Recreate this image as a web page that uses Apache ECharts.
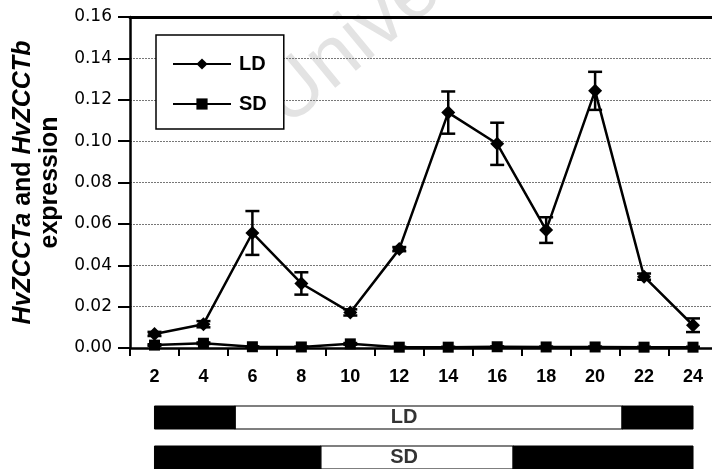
<!DOCTYPE html>
<html>
<head>
<meta charset="utf-8">
<script src="https://cdn.jsdelivr.net/npm/echarts@6/dist/echarts.min.js"></script>
<style>
  html, body { margin: 0; padding: 0; background: #fff; }
  #chart { width: 712px; height: 469px; }
</style>
</head>
<body>
<div id="chart"></div>
<script>
// Sampling times (h)
const hours = ['2', '4', '6', '8', '10', '12', '14', '16', '18', '20', '22', '24'];
// Long-day expression, mean and standard error
const ldMean = [0.0068, 0.0115, 0.0556, 0.0312, 0.0172, 0.0478, 0.1138, 0.0987, 0.0570, 0.1243, 0.0345, 0.0110];
const ldSE   = [0.0010, 0.0015, 0.0106, 0.0054, 0.0015, 0.0010, 0.0102, 0.0102, 0.0062, 0.0092, 0.0015, 0.0033];
// Short-day expression, mean and standard error
const sdMean = [0.0014, 0.0023, 0.0006, 0.0005, 0.0020, 0.0004, 0.0004, 0.0006, 0.0005, 0.0005, 0.0004, 0.0004];
const sdSE   = [0.0004, 0.0004, 0.0002, 0.0002, 0.0004, 0.0002, 0.0002, 0.0002, 0.0002, 0.0002, 0.0002, 0.0002];
// Light / dark phases (start h, end h, phase)
const ldPhases = [[2, 5.3, 'dark'], [5.3, 21.1, 'light'], [21.1, 24, 'dark']];
const sdPhases = [[2, 8.8, 'dark'], [8.8, 16.65, 'light'], [16.65, 24, 'dark']];
const phaseRows = ['LD', 'SD'];
const phaseLabelHour = 12.2;

const FONT = 'Liberation Sans, Arial, sans-serif';

function errorData(mean, se) {
  return mean.map((m, i) => [i, m - se[i], m + se[i]]);
}

function renderError(params, api) {
  const x = api.value(0);
  const lo = api.coord([x, api.value(1)]);
  const hi = api.coord([x, api.value(2)]);
  const half = 7;
  const st = { stroke: '#000', lineWidth: 2.5 };
  return {
    type: 'group',
    children: [
      { type: 'line', shape: { x1: hi[0], y1: hi[1], x2: lo[0], y2: lo[1] }, style: st },
      { type: 'line', shape: { x1: hi[0] - half, y1: hi[1], x2: hi[0] + half, y2: hi[1] }, style: st },
      { type: 'line', shape: { x1: lo[0] - half, y1: lo[1], x2: lo[0] + half, y2: lo[1] }, style: st }
    ]
  };
}

const phaseData = [];
ldPhases.forEach(p => phaseData.push([p[0], p[1], 0, p[2]]));
sdPhases.forEach(p => phaseData.push([p[0], p[1], 1, p[2]]));

function renderPhase(params, api) {
  const row = api.value(2);
  const a = api.coord([api.value(0), row]);
  const b = api.coord([api.value(1), row]);
  const h = 23;
  const dark = api.value(3) === 'dark';
  return {
    type: 'rect',
    shape: { x: a[0], y: a[1] - h / 2, width: b[0] - a[0], height: h },
    style: dark ? { fill: '#000', stroke: '#000', lineWidth: 1 } : { fill: '#fff', stroke: '#000', lineWidth: 1.2 }
  };
}

const chart = echarts.init(document.getElementById('chart'), null, { renderer: 'canvas' });

chart.setOption({
  animation: false,
  backgroundColor: '#fff',
  graphic: [{
    type: 'text',
    x: 298, y: 142,
    rotation: Math.PI * 0.22,
    z: -10,
    silent: true,
    style: {
      text: 'Unive',
      font: '80px Liberation Sans',
      fill: '#e3e3e3',
      textAlign: 'left',
      textVerticalAlign: 'bottom'
    }
  }],
  legend: {
    orient: 'vertical',
    left: 156,
    top: 35,
    padding: [19, 17, 15, 16],
    itemWidth: 58,
    itemHeight: 14,
    itemGap: 20,
    borderColor: '#000',
    borderWidth: 1.5,
    backgroundColor: '#fff',
    textStyle: { fontFamily: FONT, fontWeight: 'bold', fontSize: 20, lineHeight: 16, color: '#000', padding: [0, 0, 0, 3] },
    data: ['LD', 'SD']
  },
  grid: [
    { left: 130, width: 587.5, top: 17, height: 331, outerBoundsMode: 'none', containLabel: false },
    { left: 130, width: 587.5, top: 397.5, height: 80, outerBoundsMode: 'none', containLabel: false }
  ],
  xAxis: [
    {
      type: 'category', gridIndex: 0, data: hours, boundaryGap: true,
      axisLine: { lineStyle: { color: '#000', width: 2.5 } },
      axisTick: { show: true, length: 8, lineStyle: { color: '#000', width: 2 } },
      axisLabel: { fontFamily: FONT, fontWeight: 'bold', fontSize: 18, color: '#000', margin: 20 },
      splitLine: { show: false }
    },
    {
      type: 'category', gridIndex: 0, data: hours, position: 'top',
      axisLine: { lineStyle: { color: '#000', width: 3 } },
      axisTick: { show: false }, axisLabel: { show: false }, splitLine: { show: false }
    },
    { type: 'value', gridIndex: 1, min: 1, max: 25, show: false }
  ],
  yAxis: [
    {
      type: 'value', gridIndex: 0, min: 0, max: 0.16, interval: 0.02,
      axisLine: { show: true, lineStyle: { color: '#000', width: 2.5 } },
      axisTick: { show: true, length: 12, lineStyle: { color: '#000', width: 2 } },
      axisLabel: {
        fontFamily: 'DejaVu Sans, sans-serif', fontSize: 17, color: '#000', margin: 18,
        formatter: v => v.toFixed(2)
      },
      splitLine: { show: true, lineStyle: { color: '#777', width: 1, type: [2, 1] } },
      name: '{i|HvZCCTa}{n| and }{i|HvZCCTb}\n{n|expression}',
      nameLocation: 'middle',
      nameRotate: 90,
      nameGap: 66,
      nameTextStyle: {
        align: 'center',
        lineHeight: 27,
        rich: {
          i: { fontFamily: FONT, fontWeight: 'bold', fontStyle: 'italic', fontSize: 25, color: '#000', lineHeight: 27 },
          n: { fontFamily: FONT, fontWeight: 'bold', fontSize: 25, color: '#000', lineHeight: 27 }
        }
      }
    },
    { type: 'category', gridIndex: 1, data: phaseRows, inverse: true, show: false }
  ],
  series: [
    {
      name: 'SD', type: 'line', xAxisIndex: 0, yAxisIndex: 0, data: sdMean,
      symbol: 'rect', symbolSize: 11,
      itemStyle: { color: '#000' },
      lineStyle: { color: '#000', width: 2.5 },
      z: 3
    },
    {
      name: 'LD', type: 'line', xAxisIndex: 0, yAxisIndex: 0, data: ldMean,
      symbol: 'diamond', symbolSize: 14,
      itemStyle: { color: '#000' },
      lineStyle: { color: '#000', width: 2.5 },
      z: 4
    },
    {
      type: 'custom', xAxisIndex: 0, yAxisIndex: 0, renderItem: renderError,
      data: errorData(ldMean, ldSE), z: 5, silent: true
    },
    {
      type: 'custom', xAxisIndex: 0, yAxisIndex: 0, renderItem: renderError,
      data: errorData(sdMean, sdSE), z: 5, silent: true
    },
    {
      type: 'custom', xAxisIndex: 2, yAxisIndex: 1, renderItem: renderPhase,
      data: phaseData, silent: true
    },
    {
      type: 'scatter', xAxisIndex: 2, yAxisIndex: 1, symbolSize: 0, silent: true, z: 6,
      data: phaseRows.map((r, i) => ({ value: [phaseLabelHour, i], name: r })),
      label: {
        show: true, position: 'inside', formatter: p => p.name,
        fontFamily: FONT, fontWeight: 'bold', fontSize: 20, color: '#000'
      }
    }
  ]
});
</script>
</body>
</html>
